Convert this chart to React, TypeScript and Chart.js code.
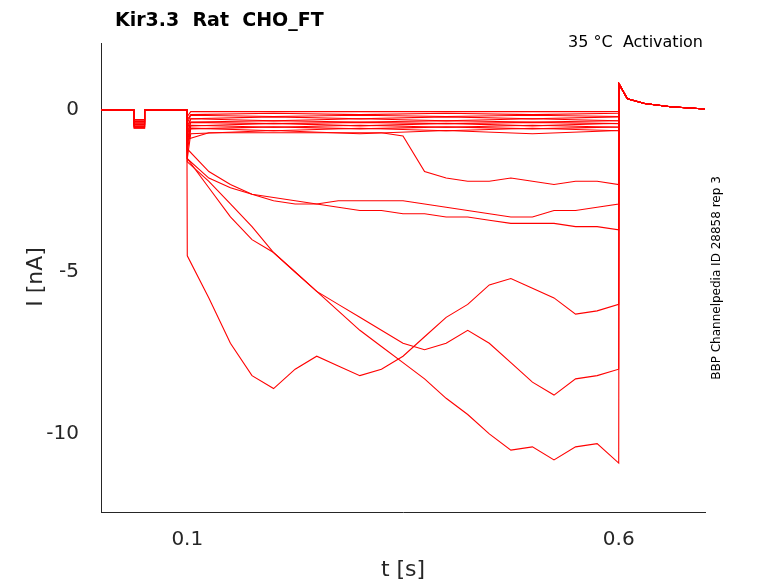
import React, { useEffect, useRef } from "react";
import { Chart, registerables } from "chart.js";
Chart.register(...registerables);

const preT = [0, 0.038, 0.0385, 0.05, 0.0505, 0.0995];
const gridT = [0.1, 0.125, 0.15, 0.175, 0.2, 0.225, 0.25, 0.275, 0.3, 0.325, 0.35, 0.375, 0.4, 0.425, 0.45, 0.475, 0.5, 0.525, 0.55, 0.575, 0.6];
const smallT = [0.1, 0.104, 0.2, 0.3, 0.4, 0.5, 0.6];
const tailT = [0.6005, 0.61, 0.63, 0.66, 0.7];
const tailVals = [0.8, 0.35, 0.2, 0.1, 0.03];

const traceA = [-4.5, -5.8, -7.2, -8.2, -8.6, -8.0, -7.6, -7.9, -8.2, -8.0, -7.6, -7.0, -6.4, -6.0, -5.4, -5.2, -5.5, -5.8, -6.3, -6.2, -6.0];
const traceB = [-1.5, -2.4, -3.3, -4.0, -4.4, -5.0, -5.6, -6.2, -6.8, -7.3, -7.8, -8.3, -8.9, -9.4, -10.0, -10.5, -10.4, -10.8, -10.4, -10.3, -10.9];
const traceC = [-1.6, -2.2, -2.9, -3.6, -4.4, -5.0, -5.6, -6.0, -6.4, -6.8, -7.2, -7.4, -7.2, -6.8, -7.2, -7.8, -8.4, -8.8, -8.3, -8.2, -8.0];
const traceD = [-1.5, -2.1, -2.4, -2.6, -2.7, -2.8, -2.9, -3.0, -3.1, -3.1, -3.2, -3.2, -3.3, -3.3, -3.4, -3.5, -3.5, -3.5, -3.6, -3.6, -3.7];
const traceE = [-1.2, -1.9, -2.3, -2.6, -2.8, -2.9, -2.9, -2.8, -2.8, -2.8, -2.8, -2.9, -3.0, -3.1, -3.2, -3.3, -3.3, -3.1, -3.1, -3.0, -2.9];
const traceF = [-0.9, -0.7, -0.7, -0.7, -0.7, -0.7, -0.7, -0.7, -0.7, -0.7, -0.8, -1.9, -2.1, -2.2, -2.2, -2.1, -2.2, -2.3, -2.2, -2.2, -2.3];
const smallOffsets = [-0.05, -0.12, -0.18, -0.24, -0.3, -0.35, -0.4, -0.45, -0.5, -0.55, -0.6, -0.68];
const smallDrift = [0.0, -0.02, 0.02, -0.03, 0.03, -0.02, 0.02, -0.04, 0.03, -0.03, 0.04, -0.05];
const smallSpikes = [-0.2, -0.3, -0.4, -0.5, -0.6, -0.7, -0.8, -0.9, -1.0, -1.1, -1.3, -1.5];
const dips = [-0.3, -0.4, -0.5, -0.35, -0.45, -0.55];

function buildTrace(times: number[], vals: number[], dip: number) {
  const pts: { x: number; y: number }[] = [];
  const preV = [0, 0, dip, dip, 0, 0];
  preT.forEach((t, i) => pts.push({ x: t, y: preV[i] }));
  times.forEach((t, i) => pts.push({ x: t, y: vals[i] }));
  tailT.forEach((t, i) => pts.push({ x: t, y: tailVals[i] }));
  return pts;
}

export default function App() {
  const ref = useRef<HTMLCanvasElement>(null);
  useEffect(() => {
    const big = [traceA, traceB, traceC, traceD, traceE, traceF].map((v) => ({ t: gridT, v }));
    const smalls = smallOffsets.map((o, k) => ({
      t: smallT,
      v: smallT.map((_, i) => (i === 0 ? smallSpikes[k] : o + (i % 2 ? smallDrift[k] : -smallDrift[k]))),
    }));
    const all = [...big, ...smalls];
    const datasets = all.map((d, i) => ({
      data: buildTrace(d.t, d.v, dips[i % dips.length]),
      borderColor: "#ff0000",
      borderWidth: 1.1,
      pointRadius: 0,
      fill: false,
    }));
    const textPlugin = {
      id: "texts",
      afterDraw(c: any) {
        const ctx = c.ctx;
        ctx.save();
        ctx.fillStyle = "#000";
        ctx.font = "bold 19px 'DejaVu Sans'";
        ctx.textBaseline = "alphabetic";
        ctx.fillText("Kir3.3  Rat  CHO_FT", 115, 26);
        ctx.font = "16px 'DejaVu Sans'";
        ctx.textAlign = "right";
        ctx.fillText("35 °C  Activation", 703, 47);
        ctx.fillStyle = "#262626";
        ctx.textAlign = "center";
        ctx.font = "22px 'DejaVu Sans'";
        ctx.fillText("t [s]", 403, 576);
        ctx.save();
        ctx.translate(42, 277);
        ctx.rotate(-Math.PI / 2);
        ctx.fillText("I [nA]", 0, 0);
        ctx.restore();
        ctx.fillStyle = "#000";
        ctx.save();
        ctx.translate(720, 278);
        ctx.rotate(-Math.PI / 2);
        ctx.font = "12px 'DejaVu Sans'";
        ctx.fillText("BBP Channelpedia ID 28858 rep 3", 0, 0);
        ctx.restore();
        ctx.restore();
      },
    };
    const chart = new Chart(ref.current!, {
      type: "line",
      data: { datasets },
      plugins: [textPlugin],
      options: {
        animation: false,
        responsive: false,
        parsing: false as any,
        layout: { padding: { top: 43, right: 73, left: 0, bottom: 0 } },
        plugins: { legend: { display: false }, tooltip: { enabled: false } },
        scales: {
          x: {
            type: "linear",
            min: 0,
            max: 0.7,
            afterBuildTicks: (s: any) => { s.ticks = [{ value: 0.1 }, { value: 0.6 }]; },
            afterFit: (s: any) => { s.height = 71; },
            grid: { display: false },
            border: { display: true, color: "#262626" },
            ticks: { color: "#262626", font: { size: 20, family: "DejaVu Sans" }, padding: 8, callback: (v: any) => String(v) },
          },
          y: {
            min: -12.41,
            max: 2.07,
            afterBuildTicks: (s: any) => { s.ticks = [{ value: -10 }, { value: -5 }, { value: 0 }]; },
            afterFit: (s: any) => { s.width = 101; },
            grid: { display: false },
            border: { display: true, color: "#262626" },
            ticks: { color: "#262626", font: { size: 20, family: "DejaVu Sans" }, padding: 14, callback: (v: any) => String(v) },
          },
        },
      },
    });
    return () => chart.destroy();
  }, []);
  return (
    <div style={{ position: "absolute", left: 0, top: 0, width: 778, height: 583, background: "#fff" }}>
      <canvas ref={ref} width={778} height={583} style={{ width: 778, height: 583 }} />
    </div>
  );
}
